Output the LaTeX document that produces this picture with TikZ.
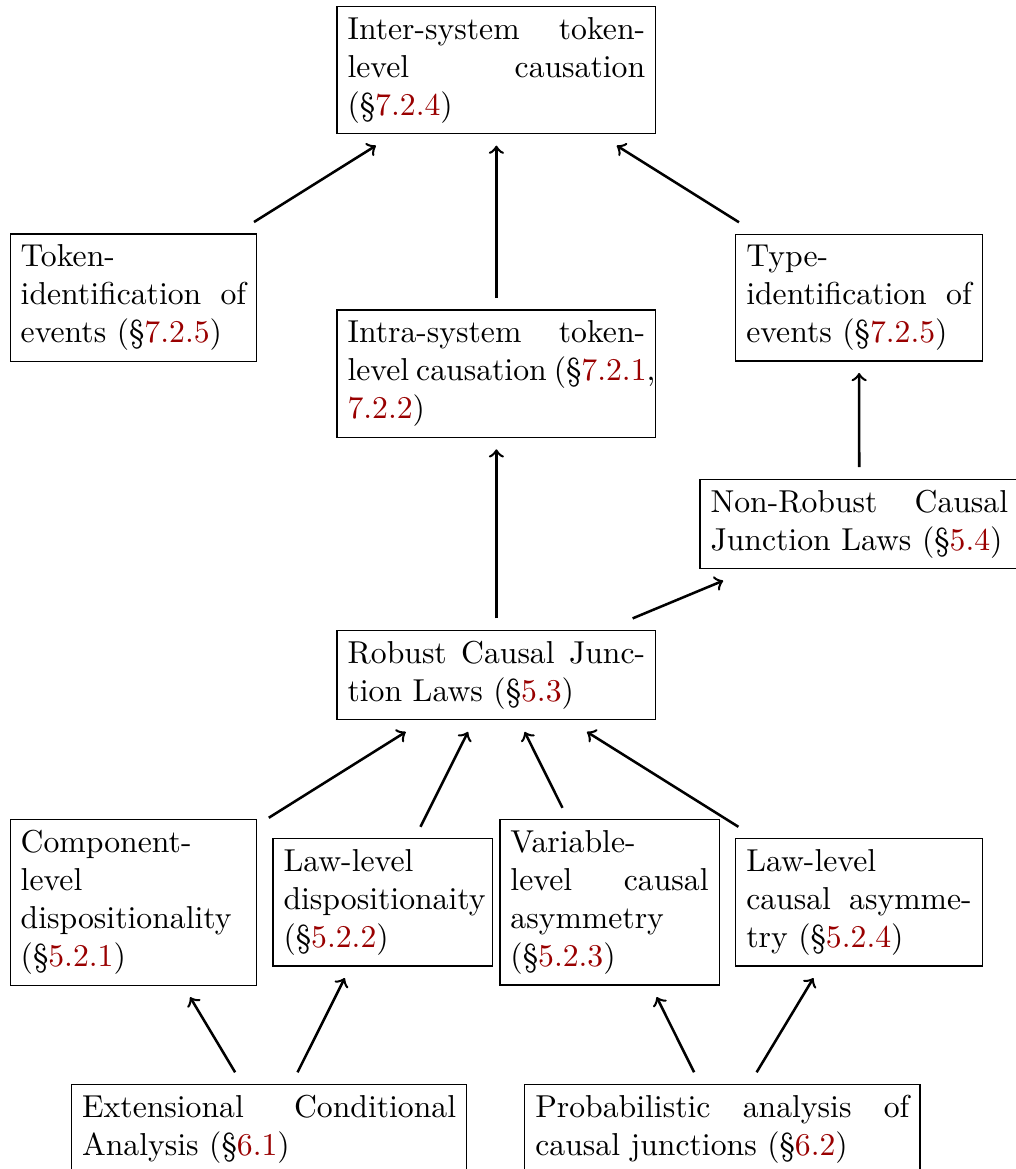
\documentclass[tikz,border=0pt]{standalone}
\usepackage{tikz}
\usetikzlibrary{arrows,positioning}
\definecolor{linkred}{rgb}{0.6,0,0}
\newcommand{\secno}[1]{\textcolor{linkred}{#1}}

\begin{document}
\begin{tikzpicture}[x=1pt,y=1pt,
  box/.style={draw,align=justify,outer sep=3.8pt,inner sep=0.3333em},
  widebox/.style={box,text width=3.3cm},
  midbox/.style={box,text width=2.5cm},
  slimbox/.style={box,text width=62.5pt},
  longbox/.style={box,text width=118pt},
  dep/.style={->,thick}]
  \useasboundingbox (0,0) rectangle (320.5,368.8);

  % top
  \node[widebox] (inter) at (156.6,346.7) {Inter-system token-level causation (\S\secno{7.2.4})};
  \node[midbox] (tokid) at (42.1,274.9) {Token-identification of events (\S\secno{7.2.5})};
  \node[midbox] (typid) at (271.0,274.9) {Type-identification of events (\S\secno{7.2.5})};
  \node[widebox] (intra) at (156.6,250.9) {Intra-system token-\linebreak \makebox[\hsize][s]{level causation (\S\secno{7.2.1},}\newline \secno{7.2.2})};
  \node[widebox] (nonrobust) at (271.1,203.5) {Non-Robust Causal Junction Laws (\S\secno{5.4})};
  \node[widebox] (robust) at (156.6,155.8) {Robust Causal Junction Laws (\S\secno{5.3})};

  % conditions
  \node[midbox] (compdisp) at (42.1,84.1) {Component-level \mbox{dispositionality} (\S\secno{5.2.1})};
  \node[slimbox] (lawdisp) at (120.7,84.1) {Law-level \mbox{dispositionaity} (\S\secno{5.2.2})};
  \node[slimbox] (varasym) at (192.3,84.1) {Variable-level causal asymmetry (\S\secno{5.2.3})};
  \node[midbox] (lawasym) at (271.0,84.1) {Law-level\newline causal asymme-\linebreak try (\S\secno{5.2.4})};

  % analyses
  \node[longbox] (extcond) at (84.9,12.6) {Extensional Conditional Analysis (\S\secno{6.1})};
  \node[longbox] (probjunc) at (227.9,12.6) {Probabilistic analysis of causal junctions (\S\secno{6.2})};

  \draw[dep] (tokid) -- (inter);
  \draw[dep] (intra) -- (inter);
  \draw[dep] (typid) -- (inter);
  \draw[dep] (robust) -- (intra);
  \draw[dep] (nonrobust) -- (typid);
  \draw[dep] (robust) -- (nonrobust);
  \draw[dep] (compdisp) -- (robust);
  \draw[dep] (lawdisp) -- (robust);
  \draw[dep] (varasym) -- (robust);
  \draw[dep] (lawasym) -- (robust);
  \draw[dep] (extcond) -- (compdisp);
  \draw[dep] (extcond) -- (lawdisp);
  \draw[dep] (probjunc) -- (varasym);
  \draw[dep] (probjunc) -- (lawasym);
\end{tikzpicture}
\end{document}
